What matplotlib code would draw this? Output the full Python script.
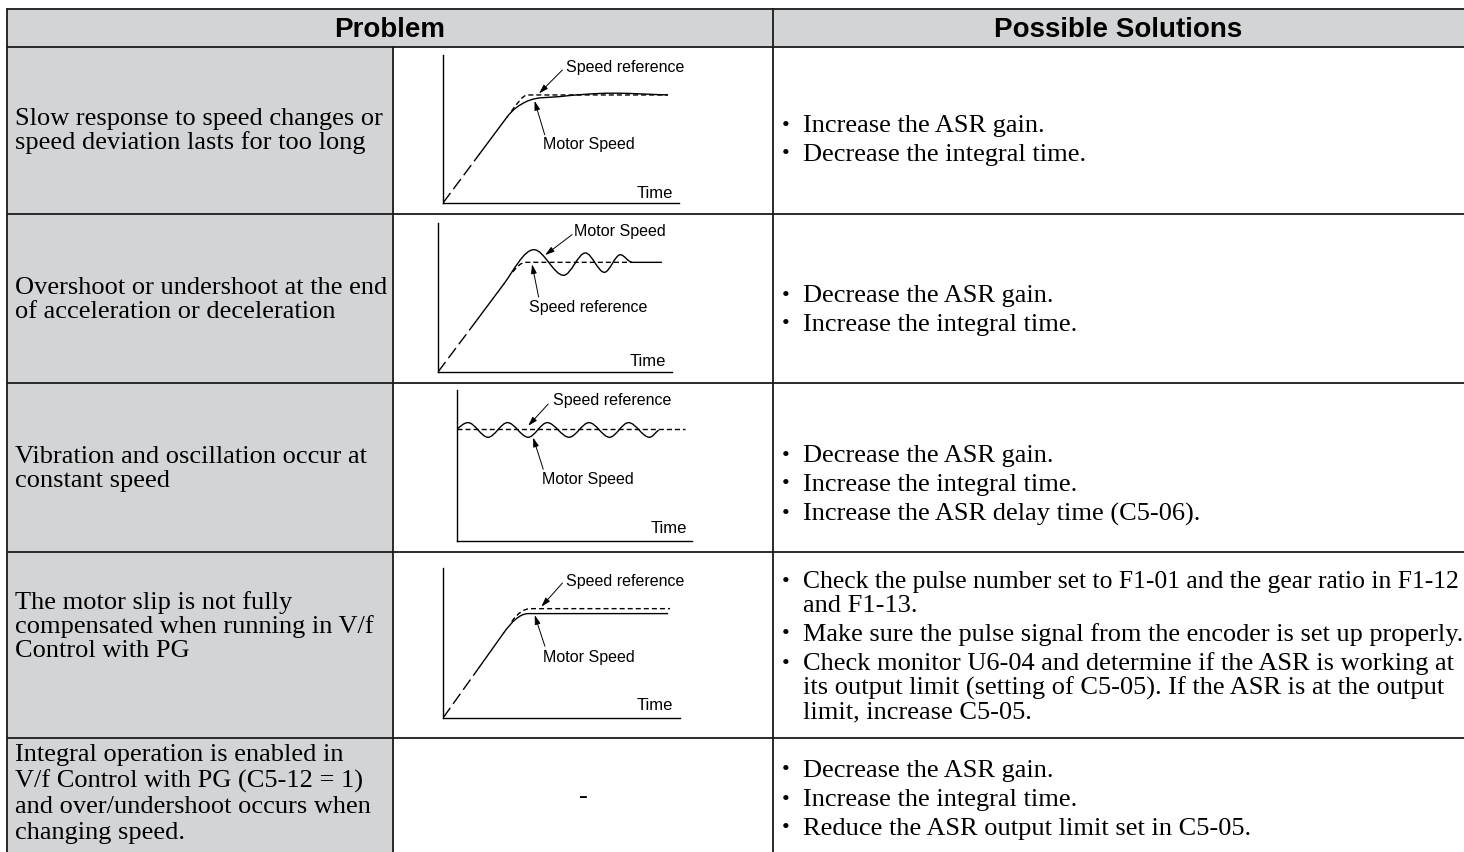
import numpy as np
import matplotlib.pyplot as plt
from matplotlib.path import Path
from matplotlib.patches import PathPatch, Rectangle

W, H = 1464, 852

# ---- table text ----
headers = ["Problem", "Possible Solutions"]

problems = [
    ["Slow response to speed changes or", "speed deviation lasts for too long"],
    ["Overshoot or undershoot at the end", "of acceleration or deceleration"],
    ["Vibration and oscillation occur at", "constant speed"],
    ["The motor slip is not fully", "compensated when running in V/f", "Control with PG"],
    ["Integral operation is enabled in", "V/f Control with PG (C5-12 = 1)",
     "and over/undershoot occurs when", "changing speed."],
]

solutions = [
    [["Increase the ASR gain."], ["Decrease the integral time."]],
    [["Decrease the ASR gain."], ["Increase the integral time."]],
    [["Decrease the ASR gain."], ["Increase the integral time."],
     ["Increase the ASR delay time (C5-06)."]],
    [["Check the pulse number set to F1-01 and the gear ratio in F1-12", "and F1-13."],
     ["Make sure the pulse signal from the encoder is set up properly."],
     ["Check monitor U6-04 and determine if the ASR is working at",
      "its output limit (setting of C5-05). If the ASR is at the output",
      "limit, increase C5-05."]],
    [["Decrease the ASR gain."], ["Increase the integral time."],
     ["Reduce the ASR output limit set in C5-05."]],
]

# ---- sketch curves (percent of each little graph) ----
s1_ramp = [(0, 0), (15.5, 33.2), (27, 57.8)]
s1_ref = [(29, 62), (36, 73), (95.3, 73)]
s1_motor = [(27, 57.8), (35.3, 68.5), (49.4, 71.9), (72, 74.2), (95.3, 73)]

s2_ramp = [(0, 0), (16.7, 35), (28, 58.8)]
s2_ref = [(32, 67.2), (37.5, 73.6), (83, 73.6)]
s2_motor = [(28, 58.8), (41, 82.1), (53.7, 64.9), (63, 79.9), (71.1, 66.9),
            (77.9, 78.7), (83, 73.6), (95.7, 73.6)]

s3_ref = [(0, 74), (97.2, 74)]
s3_motor = [(0, 74), (4.7, 78.4), (13.2, 68.7), (21.5, 78.4), (30.3, 68.7),
            (38.4, 78.4), (47.7, 68.7), (56.2, 78.4), (64.9, 68.7), (73, 78.4),
            (81.9, 68.7), (85.8, 73.5)]

s4_ramp = [(0, 0), (15.5, 34.3), (25.5, 56.5)]
s4_ref = [(29, 64.3), (37, 72.9), (95.8, 72.9)]
s4_motor = [(25.5, 56.5), (36, 69.6), (95, 69.6)]

# ---- layout ----
col_x = [7, 393, 773, W]
row_y = [9, 47, 214, 383, 552, 738, 880]
prob_first = [119, 288, 457, 603, 755]
prob_step = [24, 24, 24, 24, 26]
sol_first = [126, 296, 456, 582, 771]
GRAY = '#d3d4d6'
LINE = '#1a1a1a'
SERIF = 'Liberation Serif'
SANS = 'Liberation Sans'
BODY = 19
BULLET_X, TEXT_X = 786, 803

sketch_box = [(443, 55, 679, 203), (438, 223, 672, 372),
              (457, 390, 692, 541), (443, 568, 680, 718)]
sketch_labels = [
    [("Speed reference", (52.3, 91.5), (50.6, 89.9), (40.7, 74.0)),
     ("Motor Speed", (42.4, 39.3), (43.1, 46.1), (38.8, 69.0)),
     ("Time", (97.5, 6.7))],
    [("Motor Speed", (58, 94.4), (57.3, 92.2), (45.8, 78.5)),
     ("Speed reference", (38.7, 43.2), (43, 50.3), (40.2, 72.3)),
     ("Time", (97.6, 7.2))],
    [("Speed reference", (41, 93), (38.8, 90.7), (30.3, 76.3)),
     ("Motor Speed", (36.3, 40.4), (36.7, 47.5), (32.4, 68.5)),
     ("Time", (97.9, 8))],
    [("Speed reference", (52.1, 91.1), (50.4, 90), (41.5, 74.2)),
     ("Motor Speed", (42.3, 40.4), (43, 47.8), (38.7, 68.6)),
     ("Time", (97.2, 8.2))],
]


def smooth(ax, pts, m0, **kw):
    # cubic hermite through the knots, flat at turning points
    x = np.array([p[0] for p in pts], float)
    y = np.array([p[1] for p in pts], float)
    d = np.diff(y) / np.diff(x)
    m = np.zeros(len(x))
    m[0] = m0
    m[-1] = d[-1]
    for i in range(1, len(x) - 1):
        m[i] = 0 if d[i - 1] * d[i] <= 0 else (d[i - 1] + d[i]) / 2
    verts = [(x[0], y[0])]
    codes = [Path.MOVETO]
    for i in range(len(x) - 1):
        h = x[i + 1] - x[i]
        verts += [(x[i] + h / 3, y[i] + m[i] * h / 3),
                  (x[i + 1] - h / 3, y[i + 1] - m[i + 1] * h / 3),
                  (x[i + 1], y[i + 1])]
        codes += [Path.CURVE4] * 3
    ax.add_patch(PathPatch(Path(verts, codes), fill=False, **kw))


fig = plt.figure(figsize=(W / 100, H / 100), dpi=100)
ax = fig.add_axes([0, 0, 1, 1])
ax.set_xlim(0, W)
ax.set_ylim(H, 0)
ax.axis('off')
renderer = fig.canvas.get_renderer()

# gray cells
ax.add_patch(Rectangle((col_x[0], row_y[0]), W - col_x[0], row_y[1] - row_y[0],
                       fc=GRAY, ec='none'))
for i in range(len(problems)):
    ax.add_patch(Rectangle((col_x[0], row_y[i + 1]), col_x[1] - col_x[0],
                           row_y[i + 2] - row_y[i + 1], fc=GRAY, ec='none'))

# grid lines
for y in row_y[:-1]:
    ax.plot([col_x[0], W], [y, y], color=LINE, lw=1.3, solid_capstyle='butt')
ax.plot([col_x[0]] * 2, [row_y[0], H], color=LINE, lw=1.3)
ax.plot([col_x[1]] * 2, [row_y[1], H], color=LINE, lw=1.3)
ax.plot([col_x[2]] * 2, [row_y[0], H], color=LINE, lw=1.3)

# header
hy = (row_y[0] + row_y[1]) / 2 + 2
ax.text((col_x[0] + col_x[2]) / 2, hy, headers[0], ha='center', va='center',
        family=SANS, weight='bold', fontsize=20)
ax.text((col_x[2] + col_x[3]) / 2, hy, headers[1], ha='center', va='center',
        family=SANS, weight='bold', fontsize=20)

# problem text
for i, lines in enumerate(problems):
    for j, line in enumerate(lines):
        ax.text(col_x[0] + 8, prob_first[i] + prob_step[i] * j, line, ha='left',
                va='center', family=SERIF, fontsize=BODY)

# solutions (lines squeezed to fit the cell like the justified original)
for i, bullets in enumerate(solutions):
    y = sol_first[i]
    for b in bullets:
        ax.text(BULLET_X, y, "\u2022", ha='center', va='center', family=SERIF,
                fontsize=16)
        for line in b:
            t = ax.text(TEXT_X, y, line, ha='left', va='center', family=SERIF,
                        fontsize=BODY)
            bb = t.get_window_extent(renderer)
            if bb.x1 > W - 2:
                t.set_fontsize(BODY * (W - 2 - bb.x0) / bb.width)
            y += 24
        y += 5

# empty sketch cell in the last row
ax.text((col_x[1] + col_x[2]) / 2, 797, "-", ha='center', va='center',
        family=SERIF, fontsize=BODY)

# little response graphs
sketches = [(s1_ramp, s1_ref, s1_motor), (s2_ramp, s2_ref, s2_motor),
            (None, s3_ref, s3_motor), (s4_ramp, s4_ref, s4_motor)]

for k, (ramp, ref, motor) in enumerate(sketches):
    l, t, r, b = sketch_box[k]
    sa = fig.add_axes([l / W, 1 - b / H, (r - l) / W, (b - t) / H])
    sa.set_xlim(0, 100)
    sa.set_ylim(0, 100)
    sa.patch.set_alpha(0)
    sa.spines['top'].set_visible(False)
    sa.spines['right'].set_visible(False)
    sa.spines['left'].set_linewidth(1.0)
    sa.spines['bottom'].set_linewidth(1.0)
    sa.set_xticks([])
    sa.set_yticks([])

    if ramp is not None:
        slope = ramp[-1][1] / ramp[-1][0]
        sa.plot([ramp[0][0], ramp[1][0]], [ramp[0][1], ramp[1][1]], color='black',
                lw=1.0, ls=(0, (9, 3.5)))
        sa.plot([ramp[1][0], ramp[2][0]], [ramp[1][1], ramp[2][1]], color='black',
                lw=1.0)
        smooth(sa, ref, slope, color='black', lw=1.0, ls=(0, (3.6, 2.2)))
        smooth(sa, motor, slope, color='black', lw=1.0)
    else:
        sa.plot([p[0] for p in ref], [p[1] for p in ref], color='black', lw=1.0,
                ls=(0, (3.6, 2.2)))
        smooth(sa, motor, 1.4, color='black', lw=1.0)

    for lab in sketch_labels[k]:
        if lab[0] == "Time":
            sa.text(lab[1][0], lab[1][1], lab[0], ha='right', va='center',
                    family=SANS, fontsize=12)
            continue
        sa.text(lab[1][0], lab[1][1], lab[0], ha='left', va='center',
                family=SANS, fontsize=11.5)
        sa.annotate('', xy=lab[3], xytext=lab[2],
                    arrowprops=dict(arrowstyle='-|>,head_length=0.55,head_width=0.17',
                                    color='black', lw=0.7, shrinkA=0, shrinkB=0))

fig.savefig('out.png', dpi=100)
